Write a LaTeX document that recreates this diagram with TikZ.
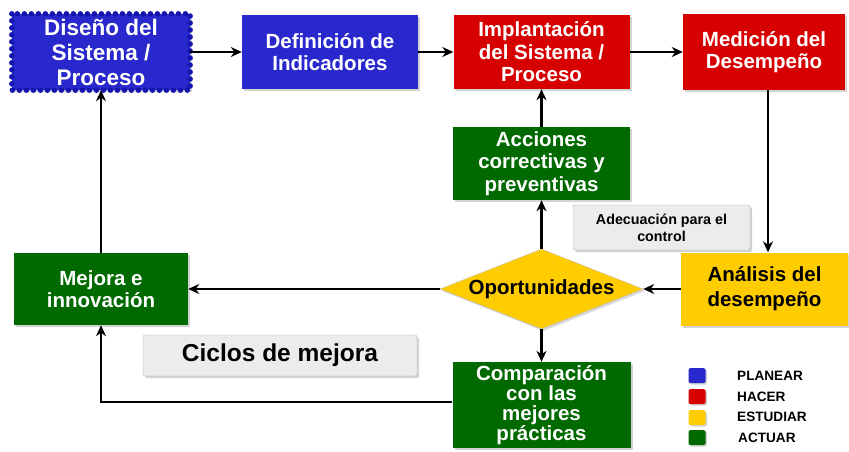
\documentclass[tikz,border=0pt]{standalone}
\usepackage{fontspec}
\setmainfont{Liberation Sans}
\usetikzlibrary{shapes.geometric,arrows.meta,shadows}
\definecolor{cblue}{RGB}{40,40,205}
\definecolor{cbluedk}{RGB}{20,20,175}
\definecolor{cred}{RGB}{215,0,0}
\definecolor{cyellow}{RGB}{255,204,0}
\definecolor{cgreen}{RGB}{0,105,0}
\definecolor{cgray}{RGB}{236,236,236}
\tikzset{
  box/.style={rectangle, inner sep=1pt, align=center, font=\fontsize{20.5}{22.5}\selectfont\bfseries,
    drop shadow={shadow xshift=2pt, shadow yshift=-2pt, opacity=0.35}},
  bluebox/.style={box, fill=cblue, text=white},
  redbox/.style={box, fill=cred, text=white},
  greenbox/.style={box, fill=cgreen, text=white},
  yellowbox/.style={box, fill=cyellow, text=black},
  graybox/.style={box, fill=cgray, draw=gray!60, rounded corners=2pt, text=black},
  arr/.style={line width=2.6pt, -{Stealth[length=11pt,width=10pt]}},
  legsq/.style={rectangle, rounded corners=1.5pt, minimum width=17pt, minimum height=15pt, inner sep=0pt,
    drop shadow={shadow xshift=1.5pt, shadow yshift=-1.5pt, opacity=0.35}},
  legtxt/.style={anchor=west, font=\fontsize{13.6}{15}\selectfont\bfseries, inner sep=0pt}
}
\begin{document}
\begin{tikzpicture}[x=1pt,y=-1pt]
\useasboundingbox (0,0) rectangle (849,451);
% nodes
\node[bluebox, minimum width=178pt, minimum height=76pt, font=\fontsize{22.5}{25}\selectfont\bfseries] (dis) at (101,52) {Diseño del\\Sistema /\\Proceso};
\draw[cbluedk, line width=5.5pt, line cap=round, dash pattern=on 0pt off 7pt]
  (dis.north west) rectangle (dis.south east);
\node[bluebox, minimum width=176pt, minimum height=74pt] (def) at (330,52) {Definición de\\Indicadores};
\node[redbox, minimum width=176pt, minimum height=74pt] (imp) at (541.5,52) {Implantación\\del Sistema /\\Proceso};
\node[redbox, minimum width=162pt, minimum height=76pt] (med) at (764,52) {Medición del\\Desempeño};
\node[greenbox, minimum width=177pt, minimum height=73pt] (acc) at (541.5,163.5) {Acciones\\correctivas y\\preventivas};
\node[graybox, minimum width=177pt, minimum height=45pt, font=\fontsize{14.3}{17}\selectfont\bfseries] (ade) at (661.5,227.5) {Adecuación para el\\control};
\node[yellowbox, minimum width=167pt, minimum height=73pt, font=\fontsize{20.5}{25}\selectfont\bfseries] (ana) at (764.5,289) {Análisis del\\desempeño};
\node[diamond, fill=cyellow, draw=gray!50, inner sep=0pt, minimum width=203pt, minimum height=80pt,
  drop shadow={shadow xshift=2pt, shadow yshift=-2pt, opacity=0.3}] (opo) at (541.5,289) {};
\node[font=\fontsize{20.5}{22}\selectfont\bfseries, inner sep=0pt] (opot) at (opo) {Oportunidades};
\node[greenbox, minimum width=174pt, minimum height=72pt] (mej) at (101,289) {Mejora e\\innovación};
\node[graybox, minimum width=274pt, minimum height=41pt, font=\fontsize{24.5}{26}\selectfont\bfseries] (cic) at (280,355.5) {Ciclos de mejora};
\node[greenbox, minimum width=178pt, minimum height=86pt, font=\fontsize{20.5}{20}\selectfont\bfseries] (com) at (541.5,405) {Comparación\\con las\\mejores\\prácticas};
% legend
\node[legsq, fill=cblue] (l1) at (697,375.5) {};
\node[legsq, fill=cred] (l2) at (697,396.5) {};
\node[legsq, fill=cyellow] (l3) at (697,417.5) {};
\node[legsq, fill=cgreen] (l4) at (697,437.5) {};
\node[legtxt] (t1) at (737,376) {PLANEAR};
\node[legtxt] (t2) at (737,397) {HACER};
\node[legtxt] (t3) at (737,417) {ESTUDIAR};
\node[legtxt] (t4) at (738,438) {ACTUAR};
% arrows
\draw[arr] (dis.east) -- (def.west);
\draw[arr] (def.east) -- (imp.west);
\draw[arr] (imp.east) -- (med.west);
\draw[arr] ([xshift=4pt]med.south) -- ([xshift=4pt]med.south |- ana.north);
\draw[arr] (ana.west) -- (opo.east);
\draw[arr] (opo.west) -- (mej.east);
\draw[arr] (opo.north) -- (acc.south);
\draw[arr] (acc.north) -- (imp.south);
\draw[arr] (opo.south) -- (com.north);
\draw[arr] ([yshift=3pt]com.west) -| (mej.south);
\draw[arr] (mej.north) -- (dis.south);
\end{tikzpicture}
\end{document}
